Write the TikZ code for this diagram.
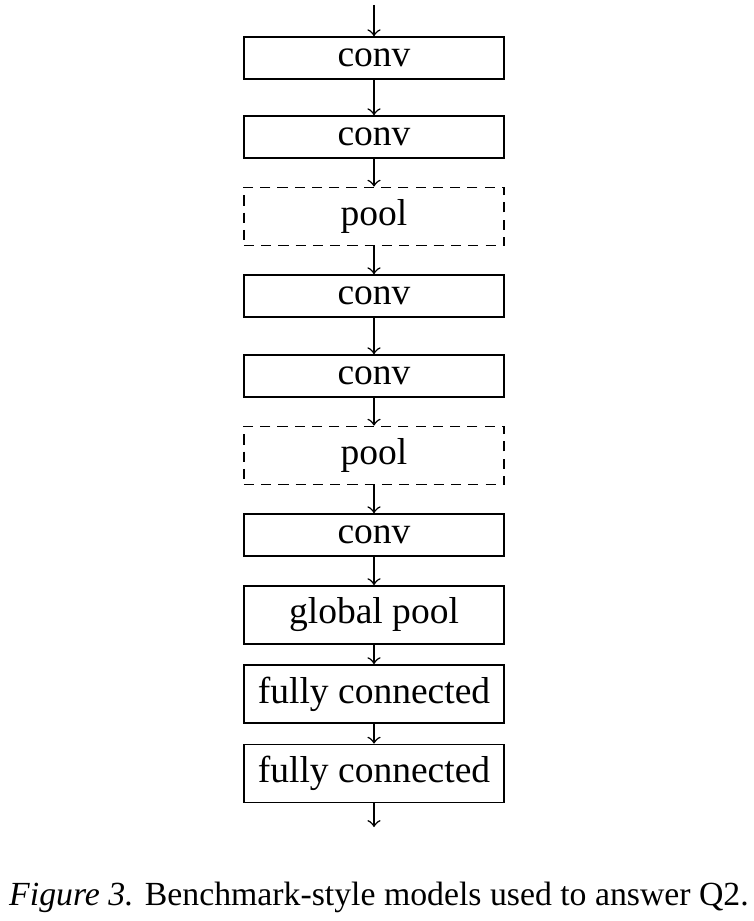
\documentclass[tikz,border=0pt]{standalone}
\usepackage{fontspec}
\setmainfont{Liberation Serif}
\begin{document}
\begin{tikzpicture}[x=0.009375cm,y=-0.009375cm,
  layer/.style={draw,minimum width=2.4375cm,minimum height=0.394cm,inner sep=0pt},
  tall/.style={layer,minimum height=0.546cm},
  poolbox/.style={tall,dash pattern=on 2.7pt off 1.9pt},
  >=to]
\useasboundingbox (0,0) rectangle (753,921);
\coordinate (in) at (374,5);
\node[layer] (c1) at (374,58) {conv};
\node[layer] (c2) at (374,137) {conv};
\node[poolbox] (p1) at (374,216.5) {pool};
\node[layer] (c3) at (374,296) {conv};
\node[layer] (c4) at (374,376) {conv};
\node[poolbox] (p2) at (374,455.5) {pool};
\node[layer] (c5) at (374,535) {conv};
\node[tall] (gp) at (374,615) {global pool};
\node[tall] (fc1) at (374,694) {fully connected};
\node[tall] (fc2) at (374,773.5) {fully connected};
\coordinate (out) at (374,827);
\draw[->] (in) -- (c1);
\draw[->] (c1) -- (c2);
\draw[->] (c2) -- (p1);
\draw[->] (p1) -- (c3);
\draw[->] (c3) -- (c4);
\draw[->] (c4) -- (p2);
\draw[->] (p2) -- (c5);
\draw[->] (c5) -- (gp);
\draw[->] (gp) -- (fc1);
\draw[->] (fc1) -- (fc2);
\draw[->] (fc2) -- (out);
% caption
\node[anchor=base,font=\small,inner sep=0pt] (cap) at (379,905) {\textit{Figure 3.} Benchmark-style models used to answer Q2.};
\end{tikzpicture}
\end{document}
